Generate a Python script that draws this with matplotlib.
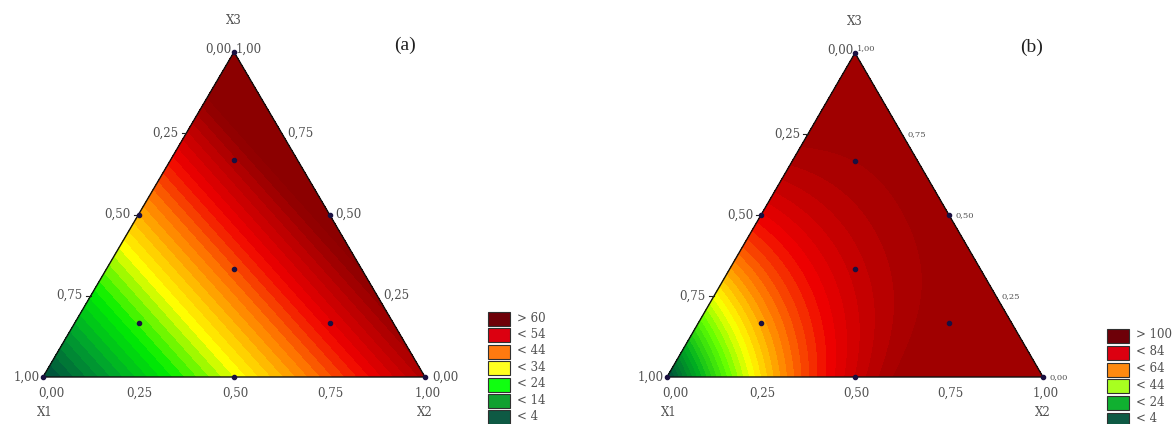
import numpy as np
import matplotlib
matplotlib.use('Agg')
import matplotlib.pyplot as plt
import matplotlib.tri as mtri
import matplotlib.transforms as mtrans
from matplotlib.colors import LinearSegmentedColormap, Normalize
from matplotlib.patches import Rectangle

# mixture design points (simplex centroid + axial), proportions of X1, X2, X3
x1 = [1, 0, 0, 0.5, 0.5, 0, 1/3, 2/3, 1/6, 1/6]
x2 = [0, 1, 0, 0.5, 0, 0.5, 1/3, 1/6, 2/3, 1/6]
x3 = [0, 0, 1, 0, 0.5, 0.5, 1/3, 1/6, 1/6, 2/3]

# responses at the design points
resp_a = [2, 64, 80, 33, 41, 72, 49, 25, 56, 64]
resp_b = [0, 102, 100, 92, 85, 100, 95, 52, 102, 100]

# colour scale anchors (value -> colour)
anchor_val_a = [3, 13, 23, 34, 45, 55, 69]
anchor_val_b = [0, 20, 37, 50, 66, 82, 100]
anchor_col_a = ['#00503c', '#00a030', '#00f000', '#ffff00', '#ff8000', '#f00000', '#8c0000']
anchor_col_b = ['#00503c', '#00b020', '#60ff00', '#ffff00', '#ff8000', '#f00000', '#a00000']

legend_a = ['> 60', '< 54', '< 44', '< 34', '< 24', '< 14', '< 4']
legend_b = ['> 100', '< 84', '< 64', '< 44', '< 24', '< 4']
swatch_a = ['#6e0008', '#dc0010', '#ff7a10', '#ffff20', '#10ff10', '#10a030', '#0e5a44']
swatch_b = ['#6e0008', '#dc0010', '#ff8a10', '#a8ff20', '#10b030', '#0e5a44']

ticks = [0.25, 0.5, 0.75]
tick_txt = ['0,25', '0,50', '0,75']

W, H = 1173, 424
S3 = np.sqrt(3) / 2
FONT = 'DejaVu Serif'


def to_xy(a, b, c):
    a, b, c = np.asarray(a), np.asarray(b), np.asarray(c)
    return b + c / 2, c * S3


def special_cubic(a, b, c):
    a, b, c = np.asarray(a), np.asarray(b), np.asarray(c)
    return np.column_stack([a, b, c, a * b, a * c, b * c, a * b * c])


def ternary_panel(fig, px, resp, avals, acols, step, small_right):
    # px = (left x, right x, base y, apex y) in pixels from top-left
    xl, xr, yb, ya = px
    ax = fig.add_axes([xl / W, (H - yb) / H, (xr - xl) / W, (yb - ya) / H])
    ax.set_xlim(0, 1)
    ax.set_ylim(0, S3)
    ax.axis('off')

    # fit Scheffe special cubic model to the design points
    coef = np.linalg.lstsq(special_cubic(x1, x2, x3), np.array(resp, float), rcond=None)[0]

    n = 90
    ii, jj = np.meshgrid(np.arange(n + 1), np.arange(n + 1))
    m = ii + jj <= n
    b = ii[m] / n
    c = jj[m] / n
    a = 1 - b - c
    gx, gy = to_xy(a, b, c)
    z = special_cubic(a, b, c) @ coef
    tri = mtri.Triangulation(gx, gy)

    pos = (np.array(avals) - avals[0]) / (avals[-1] - avals[0])
    cmap = LinearSegmentedColormap.from_list('sc', list(zip(pos, acols)))
    cmap.set_over(acols[-1])
    cmap.set_under(acols[0])
    norm = Normalize(avals[0], avals[-1])
    levels = np.arange(np.floor(z.min()) - step, z.max() + step, step)
    ax.tricontourf(tri, z, levels=levels, cmap=cmap, norm=norm)

    # triangle outline
    vx, vy = to_xy([1, 0, 0, 1], [0, 1, 0, 0], [0, 0, 1, 0])
    ax.plot(vx, vy, color='#101010', lw=1.0, clip_on=False)

    # design points
    dx, dy = to_xy(x1, x2, x3)
    ax.scatter(dx, dy, s=9, color='#1a1040', zorder=5, clip_on=False)

    def off(ddx, ddy):
        return mtrans.offset_copy(ax.transData, fig=fig, x=ddx, y=ddy, units='dots')

    tk = dict(family=FONT, color='#505050', fontsize=8.5)
    tks = dict(tk, fontsize=6 if small_right else 8.5)

    # left edge: X1 values
    for t, s in zip(ticks, tick_txt[::-1]):
        ex, ey = to_xy(1 - t, 0, t)
        ax.plot([ex, ex - 0.012], [ey, ey], color='#202020', lw=0.8, clip_on=False)
        ax.text(ex, ey, s, transform=off(-8, 0), ha='right', va='center', **tk)
    # right edge: X3 values
    for t, s in zip(ticks, tick_txt):
        ex, ey = to_xy(0, 1 - t, t)
        ax.text(ex, ey, s, transform=off(6, 0), ha='left', va='center', **tks)
    # bottom: X2 values
    for t, s in zip(ticks, tick_txt):
        ex, ey = to_xy(1 - t, t, 0)
        ax.text(ex, ey, s, transform=off(1, -16), ha='center', va='center', **tk)

    ax.text(0, 0, '1,00', transform=off(-3, 0), ha='right', va='center', **tk)
    ax.text(0, 0, '0,00', transform=off(8, -16), ha='center', va='center', **tk)
    ax.text(1, 0, '1,00', transform=off(3, -16), ha='center', va='center', **tk)
    ax.text(1, 0, '0,00', transform=off(7, 0), ha='left', va='center', **tks)
    ax.text(0.5, S3, '0,00', transform=off(-2, 3), ha='right', va='center', **tk)
    ax.text(0.5, S3, '1,00', transform=off(2, 5 if small_right else 3), ha='left',
            va='center', **tks)
    ax.text(0.5, S3, 'X3', transform=off(0, 31), ha='center', va='center', **tk)
    ax.text(0, 0, 'X1', transform=off(2, -36), ha='center', va='center', **tk)
    ax.text(1, 0, 'X2', transform=off(0, -36), ha='center', va='center', **tk)
    return ax


def legend(fig, x0, y0, step, labels, cols):
    for k, (lab, col) in enumerate(zip(labels, cols)):
        top = y0 + k * step
        fig.patches.append(Rectangle((x0 / W, (H - top - 14) / H), 22 / W, 14 / H,
                                     transform=fig.transFigure, facecolor=col,
                                     edgecolor='#303030', lw=0.8))
        fig.text((x0 + 29) / W, (H - top - 6) / H, lab, ha='left', va='center',
                 family=FONT, color='#505050', fontsize=8.5)


fig = plt.figure(figsize=(W / 100, H / 100), dpi=100)

ternary_panel(fig, (43, 425, 377, 52), resp_a, anchor_val_a, anchor_col_a, 2, False)
ternary_panel(fig, (667, 1043, 377, 53), resp_b, anchor_val_b, anchor_col_b, 3, True)

fig.text(405 / W, (H - 45) / H, '(a)', ha='center', va='center',
         family='Liberation Serif', fontsize=14, color='#202020')
fig.text(1032 / W, (H - 47) / H, '(b)', ha='center', va='center',
         family='Liberation Serif', fontsize=14, color='#202020')

legend(fig, 488, 312, 16.4, legend_a, swatch_a)
legend(fig, 1107, 329, 16.8, legend_b, swatch_b)

fig.savefig('out.png', dpi=100)
